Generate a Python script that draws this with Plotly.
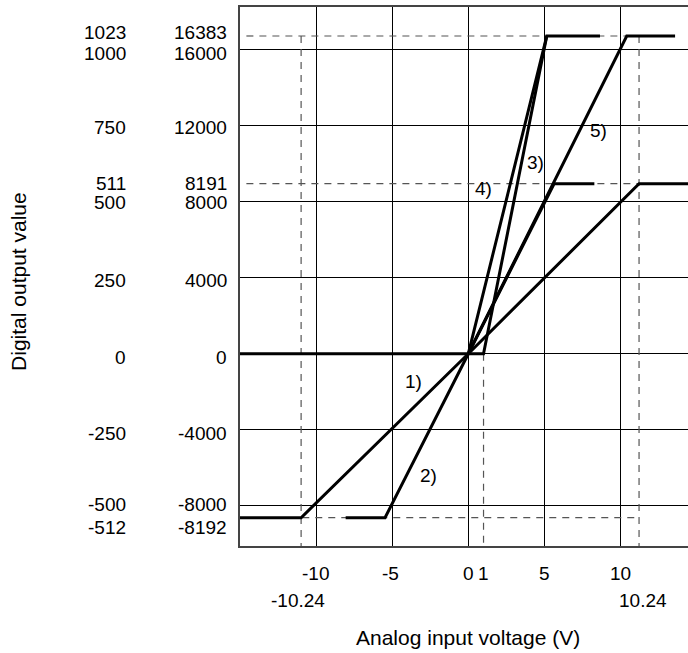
import plotly.graph_objects as go

# Display coordinates (diagram is schematic; special levels drawn slightly apart)
X_NEG_FS = -11.0     # drawn position of -10.24 V
X_POS_FS = 11.23     # drawn position of 10.24 V
X_ONE = 1.0          # 1 V
Y_TOP = 16721        # drawn position of 16383
Y_MID = 8947         # drawn position of 8191
Y_NEG = -8632        # drawn position of -8192

line1_x = [-15.2, X_NEG_FS, 0, X_POS_FS, 14.6]
line1_y = [Y_NEG, Y_NEG, 0, Y_MID, Y_MID]
line2_x = [-8.07, -5.48, 0, 5.64, 8.29]
line2_y = [Y_NEG, Y_NEG, 0, Y_MID, Y_MID]
line3_x = [0, 5.16, 8.66]
line3_y = [0, Y_TOP, Y_TOP]
line4_x = [-15.2, X_ONE, 5.16]
line4_y = [0, 0, Y_TOP]
line5_x = [0, 10.42, 13.6]
line5_y = [0, Y_TOP, Y_TOP]

grid_x = [-10, -5, 0, 5, 10]
grid_y = [-8000, -4000, 0, 4000, 8000, 12000, 16000]

# y tick labels: (position, left column, right column)
ylab_pos = [16879, 15826, 11879, 8932, 7932, 3879, -174, -4174, -7911, -9121]
ylab_left = ["1023", "1000", "750", "511", "500", "250", "0", "-250", "-500", "-512"]
ylab_right = ["16383", "16000", "12000", "8191", "8000", "4000", "0", "-4000", "-8000", "-8192"]

# x tick labels: (position, text, row)
xlab_pos = [-10.07, -5.15, 0, 1.0, 5.0, 9.98, -11.2, 11.5]
xlab_text = ["-10", "-5", "0", "1", "5", "10", "-10.24", "10.24"]
xlab_row = [0, 0, 0, 0, 0, 0, 1, 1]

curve_labels = ["1)", "2)", "3)", "4)", "5)"]
curve_lab_x = [-3.62, -2.63, 4.39, 0.97, 8.55]
curve_lab_y = [-1479, -6384, 10037, 8721, 11737]

FONT = "Liberation Sans, Arial, sans-serif"
FS = 19
FT = 21

fig = go.Figure()

dash_style = dict(color="#555555", width=1.2, dash="7px,6px")
dashed = [
    ([-14.6, 13.6], [Y_TOP, Y_TOP]),
    ([-14.6, 14.6], [Y_MID, Y_MID]),
    ([-15.2, X_POS_FS], [Y_NEG, Y_NEG]),
    ([X_NEG_FS, X_NEG_FS], [Y_TOP, -10200]),
    ([X_ONE, X_ONE], [0, -10200]),
    ([X_POS_FS, X_POS_FS], [Y_TOP, -10200]),
]
for dx, dy in dashed:
    fig.add_trace(go.Scatter(x=dx, y=dy, mode="lines", line=dash_style,
                             hoverinfo="skip", showlegend=False))

for lx, ly in [(line1_x, line1_y), (line2_x, line2_y), (line3_x, line3_y),
               (line4_x, line4_y), (line5_x, line5_y)]:
    fig.add_trace(go.Scatter(x=lx, y=ly, mode="lines",
                             line=dict(color="black", width=3),
                             showlegend=False))

ann = []
for p, lt, rt in zip(ylab_pos, ylab_left, ylab_right):
    ann.append(dict(x=0, xref="paper", y=p, yref="y", text=rt, showarrow=False,
                    xanchor="right", yanchor="middle", xshift=-11,
                    font=dict(size=FS, color="black", family=FONT)))
    ann.append(dict(x=0, xref="paper", y=p, yref="y", text=lt, showarrow=False,
                    xanchor="right", yanchor="middle", xshift=-112,
                    font=dict(size=FS, color="black", family=FONT)))
for p, t, r in zip(xlab_pos, xlab_text, xlab_row):
    ann.append(dict(x=p, xref="x", y=0, yref="paper", text=t, showarrow=False,
                    xanchor="center", yanchor="middle", yshift=-27 - 27 * r,
                    font=dict(size=FS, color="black", family=FONT)))
for t, x, y in zip(curve_labels, curve_lab_x, curve_lab_y):
    ann.append(dict(x=x, y=y, xref="x", yref="y", text=t, showarrow=False,
                    xanchor="center", yanchor="middle",
                    font=dict(size=FS, color="black", family=FONT)))
ann.append(dict(x=0.508, xref="paper", y=0, yref="paper", text="Analog input voltage (V)",
                showarrow=False, xanchor="center", yanchor="middle", yshift=-91,
                font=dict(size=FT, color="black", family=FONT)))
ann.append(dict(x=0, xref="paper", y=0.49, yref="paper", text="Digital output value",
                showarrow=False, xanchor="center", yanchor="middle", xshift=-221,
                textangle=-90, font=dict(size=FT, color="black", family=FONT)))

fig.update_layout(
    width=688, height=653,
    margin=dict(l=240, r=0, t=7, b=107),
    paper_bgcolor="white", plot_bgcolor="white",
    annotations=ann,
    xaxis=dict(range=[-15.02, 14.45], tickvals=grid_x, showticklabels=False,
               ticks="", showgrid=True, gridcolor="black", gridwidth=1,
               zeroline=False, showline=True, linecolor="#444444", linewidth=1.5,
               mirror=True, fixedrange=True),
    yaxis=dict(range=[-10121, 18247], tickvals=grid_y, showticklabels=False,
               ticks="", showgrid=True, gridcolor="black", gridwidth=1,
               zeroline=False, showline=True, linecolor="#444444", linewidth=1.5,
               mirror=False, fixedrange=True),
)

fig.write_html("out.html")
